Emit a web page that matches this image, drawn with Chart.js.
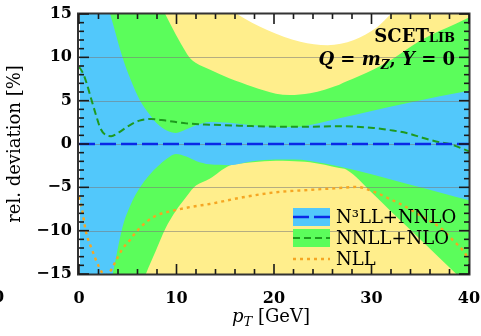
<!DOCTYPE html>
<html>
<head>
<meta charset="utf-8">
<script src="https://cdn.jsdelivr.net/npm/chart.js@4.4.1/dist/chart.umd.min.js"></script>
<style>
  html, body { margin: 0; padding: 0; background: #fff; overflow: hidden; }
  #wrap { width: 481px; height: 336px; }
</style>
</head>
<body>
<div id="wrap"><canvas id="c" width="481" height="336"></canvas></div>
<script>
// ---- axis ticks ----
const xTickValues = [0, 10, 20, 30, 40];
const yTickValues = [-15, -10, -5, 0, 5, 10, 15];
const gridValues = [-10, -5, 0, 5, 10];

// ---- N3LL+NNLO uncertainty band (rel. deviation in %) ----
const n3llPt    = [0.1, 1, 2, 3, 3.2, 3.45, 4.46, 5.3, 6.27, 7.2, 8.06, 9, 9.94, 11, 12, 13.4, 15.4, 17.8, 20.2, 22, 23.7, 26.7, 30, 33.6, 37, 40];
const n3llUpper = [36, 28, 21, 15.9, 15, 14.0, 10, 7.4, 5, 3.46, 2.3, 1.55, 1.27, 1.7, 2.15, 2.55, 2.45, 2.15, 1.95, 1.95, 2.2, 2.96, 3.8, 4.7, 5.5, 6.15];
const n3llLower = [-40, -32, -24, -17.5, -16.2, -15, -9.6, -7.0, -5.0, -3.6, -2.6, -1.7, -1.15, -1.45, -1.95, -2.35, -2.45, -2.0, -1.8, -1.8, -1.95, -2.6, -3.5, -4.6, -5.6, -6.5];

// ---- NNLL+NLO uncertainty band ----
const nnllPt    = [0.1, 2, 4, 6, 6.86, 7.89, 8.84, 9.94, 10.97, 11.4, 12, 13.4, 15.4, 16.6, 17.8, 20.2, 21.6, 23.7, 26.7, 27.4, 30.2, 32, 35.1, 38.7, 40];
const nnllUpper = [45, 36, 28, 21.5, 19.5, 17.2, 15, 12.6, 10.6, 9.9, 9.35, 8.6, 7.6, 7.1, 6.6, 5.8, 5.65, 5.85, 6.85, 7.2, 8.6, 9.7, 12.0, 13.9, 14.6];
const nnllLower = [-45, -34, -25, -17.7, -15, -12.3, -9.8, -7.7, -6.15, -5.5, -4.8, -4.0, -2.5, -2.25, -2.1, -1.92, -1.95, -2.1, -2.77, -2.95, -5.8, -7.8, -11.1, -15, -16.4];

// ---- NLL uncertainty band ----
const nllPt    = [0.1, 5, 10, 13, 16.2, 19.3, 22.7, 25.5, 28.2, 30.6, 32, 35, 40];
const nllUpper = [45, 32, 22, 17.6, 15, 13.15, 11.8, 11.4, 12.0, 13.5, 15, 18, 24];
const nllLower = [-45, -45, -45, -45, -45, -45, -45, -45, -45, -45, -45, -45, -45];

// ---- central values ----
const n3llCentralPt = [0, 40];
const n3llCentral   = [0, 0];
const nnllCentralPt = [0, 0.35, 0.7, 1.2, 1.7, 2.2, 2.8, 3.3, 4.1, 5.1, 6.2, 7.4, 8.9, 11, 13.4, 16.8, 20.2, 23.6, 26.7, 30.2, 31.9, 33.6, 35.3, 37, 38, 40];
const nnllCentral   = [8.9, 8.3, 7.3, 5.4, 3.5, 1.8, 1.0, 0.9, 1.35, 2.1, 2.7, 2.88, 2.7, 2.38, 2.23, 2.1, 2.0, 2.0, 2.05, 1.85, 1.6, 1.27, 0.7, 0.2, 0.0, -0.85];
const nllCentralPt  = [0, 0.34, 0.69, 1.37, 2.06, 2.7, 3.26, 3.77, 4.46, 5.14, 5.83, 6.86, 7.89, 9.6, 11.65, 13.4, 16.8, 20.2, 23.65, 26.7, 28.5, 30.2, 31.9, 33.6, 35.3, 37, 38.4, 39.4, 40];
const nllCentral    = [-6.1, -7.7, -10.0, -12.3, -14.2, -15.2, -14.6, -13.5, -12.1, -11.2, -10.2, -9.04, -8.27, -7.7, -7.23, -6.92, -6.15, -5.57, -5.3, -5.08, -4.95, -5.5, -6.35, -7.3, -8.46, -9.6, -11.15, -12.3, -13.4];

const labels = { n3ll: 'N³LL+NNLO', nnll: 'NNLL+NLO', nll: 'NLL' };

const colors = {
  n3llBand: '#52c8fb', nnllBand: '#5bfd5b', nllBand: '#ffee8c',
  n3llLine: '#0a28e6', nnllLine: '#1e9a1e', nllLine: '#f5a623',
  grid: 'rgba(120,120,120,0.55)', frame: '#333333', tick: '#1a1a1a'
};
const dashes = { n3ll: [16, 5], nnll: [7, 4], nll: [3, 4] };

const pts = (xs, ys) => xs.map((x, i) => ({ x, y: ys[i] }));

function lineSet(label, xs, ys, color, dash, width, order) {
  return {
    label, data: pts(xs, ys), borderColor: color, borderWidth: width,
    borderDash: dash, fill: false, pointRadius: 0, order,
    cubicInterpolationMode: 'monotone', clip: 0
  };
}
function bandSet(label, xs, ys, color, fill, order) {
  return {
    label, data: pts(xs, ys), borderWidth: 0, borderColor: 'rgba(0,0,0,0)',
    backgroundColor: color, fill, pointRadius: 0, order,
    cubicInterpolationMode: 'monotone', clip: 0
  };
}

const datasets = [
  lineSet(labels.n3ll, n3llCentralPt, n3llCentral, colors.n3llLine, dashes.n3ll, 2.5, 1),
  lineSet(labels.nnll, nnllCentralPt, nnllCentral, colors.nnllLine, dashes.nnll, 2, 2),
  lineSet(labels.nll, nllCentralPt, nllCentral, colors.nllLine, dashes.nll, 2.4, 3),
  bandSet('N³LL band up', n3llPt, n3llUpper, colors.n3llBand, '+1', 6),
  bandSet('N³LL band down', n3llPt, n3llLower, colors.n3llBand, false, 6),
  bandSet('NNLL band up', nnllPt, nnllUpper, colors.nnllBand, '+1', 7),
  bandSet('NNLL band down', nnllPt, nnllLower, colors.nnllBand, false, 7),
  bandSet('NLL band up', nllPt, nllUpper, colors.nllBand, '+1', 8),
  bandSet('NLL band down', nllPt, nllLower, colors.nllBand, false, 8)
];

const serif = 'DejaVu Serif';
const fmtMinus = v => (v < 0 ? '\u2212' + Math.abs(v) : String(v));

// grid lines under the central curves, frame with inward ticks, legend and annotations
const overlay = {
  id: 'overlay',
  beforeDatasetDraw(chart, args) {
    if (args.index !== 2) return;
    const { ctx, chartArea: a, scales: { y } } = chart;
    ctx.save();
    ctx.setLineDash([]);
    ctx.strokeStyle = colors.grid;
    ctx.lineWidth = 1;
    gridValues.forEach(v => {
      const py = Math.round(y.getPixelForValue(v)) + 0.5;
      ctx.beginPath(); ctx.moveTo(a.left, py); ctx.lineTo(a.right, py); ctx.stroke();
    });
    ctx.restore();
  },
  afterDraw(chart) {
    const ctx = chart.ctx;
    const a = chart.chartArea;
    const sx = chart.scales.x, sy = chart.scales.y;
    ctx.save();
    ctx.setLineDash([]);

    // frame and inward tick marks on all four sides
    ctx.strokeStyle = colors.frame;
    ctx.lineWidth = 2;
    ctx.strokeRect(a.left - 1, a.top - 0.5, a.right - a.left + 1.5, a.bottom - a.top + 1);
    ctx.fillStyle = colors.tick;
    const major = 10, minor = 5, tw = 1.6;
    for (let v = 0; v <= 40; v += 2) {
      const px = sx.getPixelForValue(v);
      const len = xTickValues.includes(v) ? major : minor;
      ctx.fillRect(px - tw / 2, a.bottom - len, tw, len);
      ctx.fillRect(px - tw / 2, a.top, tw, len);
    }
    for (let v = -15; v <= 15; v += 1) {
      const py = sy.getPixelForValue(v);
      const len = yTickValues.includes(v) ? major : minor;
      ctx.fillRect(a.left, py - tw / 2, len, tw);
      ctx.fillRect(a.right - len, py - tw / 2, len, tw);
    }

    ctx.fillStyle = '#000';
    ctx.textBaseline = 'alphabetic';

    // legend
    const lx = 293, bw = 37, bh = 18;
    const rows = [
      { top: 208, band: colors.n3llBand, ds: datasets[0] },
      { top: 229, band: colors.nnllBand, ds: datasets[1] },
      { top: 250, band: null, ds: datasets[2] }
    ];
    rows.forEach(r => {
      if (r.band) { ctx.fillStyle = r.band; ctx.fillRect(lx, r.top, bw, bh); }
      ctx.strokeStyle = r.ds.borderColor;
      ctx.lineWidth = r.ds.borderWidth;
      ctx.setLineDash(r.ds.borderDash);
      ctx.beginPath();
      ctx.moveTo(lx, r.top + bh / 2); ctx.lineTo(lx + bw, r.top + bh / 2);
      ctx.stroke();
      ctx.setLineDash([]);
      ctx.fillStyle = '#000';
      ctx.font = '18px "' + serif + '"';
      ctx.textAlign = 'left';
      ctx.fillText(r.ds.label, 336, r.top + 15);
    });

    // SCETlib tag
    const rightEdge = 455;
    ctx.font = 'bold 13px "' + serif + '"';
    const wLib = ctx.measureText('LIB').width;
    ctx.font = 'bold 18px "' + serif + '"';
    const wScet = ctx.measureText('SCET').width;
    ctx.textAlign = 'left';
    ctx.fillText('SCET', rightEdge - wLib - wScet, 42);
    ctx.font = 'bold 13px "' + serif + '"';
    ctx.fillText('LIB', rightEdge - wLib, 42);

    // kinematics: Q = m_Z, Y = 0
    const parts = [
      { t: 'Q', f: 'italic bold 18px', dy: 0 },
      { t: ' = ', f: 'bold 18px', dy: 0 },
      { t: 'm', f: 'italic bold 18px', dy: 0 },
      { t: 'Z', f: 'italic bold 12px', dy: 4 },
      { t: ', ', f: 'bold 18px', dy: 0 },
      { t: 'Y', f: 'italic bold 18px', dy: 0 },
      { t: ' = 0', f: 'bold 18px', dy: 0 }
    ];
    let total = 0;
    parts.forEach(p => { ctx.font = p.f + ' "' + serif + '"'; p.w = ctx.measureText(p.t).width; total += p.w; });
    let cx = rightEdge - total;
    parts.forEach(p => { ctx.font = p.f + ' "' + serif + '"'; ctx.fillText(p.t, cx, 65 + p.dy); cx += p.w; });

    // x-axis title: p_T [GeV]
    const xt = [
      { t: 'p', f: 'italic 18px', dy: 0 },
      { t: 'T', f: 'italic 13px', dy: 4 },
      { t: ' [GeV]', f: '18px', dy: 0 }
    ];
    let tWidth = 0;
    xt.forEach(p => { ctx.font = p.f + ' "' + serif + '"'; p.w = ctx.measureText(p.t).width; tWidth += p.w; });
    let tx = 271 - tWidth / 2;
    xt.forEach(p => { ctx.font = p.f + ' "' + serif + '"'; ctx.fillText(p.t, tx, 322 + p.dy); tx += p.w; });

    // neighbouring-panel tick label cut at the left edge
    ctx.font = 'bold 16px "' + serif + '"';
    ctx.textAlign = 'center';
    ctx.fillText('0', -1.5, 302);
    ctx.restore();
  }
};

new Chart(document.getElementById('c'), {
  type: 'line',
  data: { datasets },
  options: {
    responsive: false,
    animation: false,
    devicePixelRatio: 1,
    layout: { padding: { left: 0, right: 12, top: 14, bottom: 0 } },
    plugins: { legend: { display: false }, tooltip: { enabled: false } },
    scales: {
      x: {
        type: 'linear', min: 0, max: 40,
        afterBuildTicks: s => { s.ticks = xTickValues.map(v => ({ value: v })); },
        ticks: { color: '#000', font: { family: serif, size: 16, weight: 'bold' }, padding: 15, maxRotation: 0, autoSkip: false, callback: fmtMinus },
        grid: { display: false, drawTicks: false },
        border: { display: false },
        afterFit: s => { s.height = 62; s.paddingLeft = 0; s.paddingRight = 0; }
      },
      y: {
        type: 'linear', min: -15, max: 15,
        afterBuildTicks: s => { s.ticks = yTickValues.map(v => ({ value: v })); },
        ticks: { color: '#000', font: { family: serif, size: 16, weight: 'bold' }, padding: 7, autoSkip: false, callback: fmtMinus },
        grid: { display: false, drawTicks: false },
        border: { display: false },
        title: { display: true, text: 'rel. deviation [%]', color: '#000', font: { family: serif, size: 18 }, padding: { top: 5, bottom: 0 } },
        afterFit: s => { s.width = 79; s.paddingTop = 0; s.paddingBottom = 0; }
      }
    }
  },
  plugins: [overlay]
});
</script>
</body>
</html>
